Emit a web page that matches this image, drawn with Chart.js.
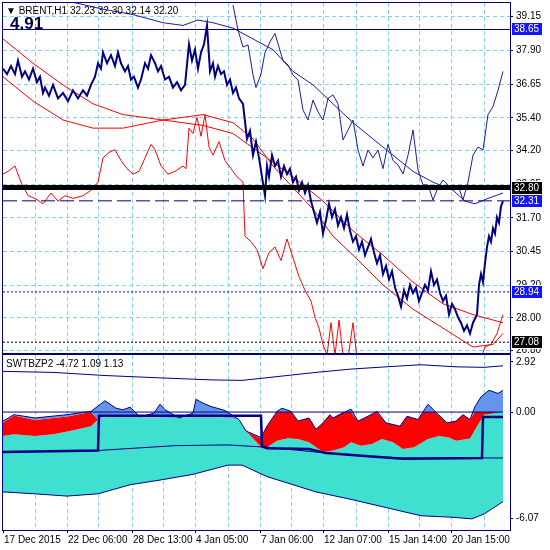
<!DOCTYPE html>
<html><head><meta charset="utf-8">
<script src="https://cdn.jsdelivr.net/npm/chart.js@4/dist/chart.umd.min.js"></script>
<style>
body{margin:0;background:#fff;width:550px;height:550px;overflow:hidden;position:relative;font-family:"Liberation Sans",sans-serif}
#top{position:absolute;left:0;top:0}
#bot{position:absolute;left:0;top:354px}
.t{position:absolute;color:#000;font-size:10px;white-space:pre}
</style></head><body>
<canvas id="top" width="550" height="354"></canvas>
<canvas id="bot" width="550" height="196"></canvas>
<div class="t" style="left:6px;top:5px">▼ BRENT,H1</div>
<div class="t" style="left:70px;top:5px">32.23 32.30 32.14 32.20</div>
<div class="t" style="left:10px;top:14px;font-size:17px;font-weight:bold;color:#000040">4.91</div>
<div class="t" style="left:6px;top:358px">SWTBZP2 -4.72 1.09 1.13</div>
<script>
// tiempo en barras H1 (0 = 17 Dec 2015)
const gridT = [0,32,64,95,129,160,192,225,257,288,320,353,385,416,448,481];
const gridLabels = {0:'17 Dec 2015',64:'22 Dec 06:00',129:'28 Dec 13:00',192:'4 Jan 05:00',257:'7 Jan 06:00',320:'12 Jan 07:00',385:'15 Jan 14:00',448:'20 Jan 15:00'};
const priceTicks = [39.15,37.90,36.65,35.40,34.20,32.95,31.70,30.45,29.20,28.00,26.80];
const indTicks = [2.92,0.00,-6.07];

// BRENT H1 (grueso)
const brent = [[0,37.2],[4,37.0],[8,37.3],[12,37.0],[15,37.5],[19,36.9],[22,37.1],[26,36.8],[30,37.2],[34,36.7],[37,36.9],[40,36.3],[42,36.5],[46,36.2],[50,36.6],[55,36.1],[60,36.3],[65,36.0],[70,36.4],[75,36.1],[80,36.4],[84,36.2],[88,36.6],[92,36.9],[95,37.4],[98,37.2],[100,37.8],[104,37.4],[108,37.7],[112,37.3],[115,37.8],[118,37.4],[122,37.1],[125,37.3],[128,36.8],[131,36.9],[135,36.5],[138,36.8],[142,37.4],[145,37.2],[148,37.7],[152,37.4],[155,37.1],[158,37.3],[162,36.8],[166,36.9],[170,36.5],[174,36.7],[178,36.4],[182,36.6],[186,38.1],[189,37.5],[192,37.9],[195,37.2],[198,37.8],[201,38.1],[204,38.8],[207,37.1],[210,37.4],[212,36.9],[215,37.3],[218,37.0],[221,37.1],[224,36.6],[227,36.8],[230,36.3],[233,36.5],[236,36.1],[240,35.9],[244,34.6],[247,34.9],[250,34.0],[253,34.5],[256,33.9],[259,33.2],[262,32.5],[264,33.6],[266,33.2],[269,34.0],[272,33.6],[275,33.8],[278,33.2],[281,33.6],[284,33.3],[287,33.5],[290,33.0],[293,33.2],[296,32.7],[299,33.0],[302,32.6],[305,32.9],[308,32.3],[311,31.9],[314,31.5],[317,31.9],[320,31.1],[323,31.6],[326,32.2],[329,31.7],[332,32.0],[335,31.4],[338,31.7],[341,31.3],[344,31.8],[347,31.2],[350,30.8],[353,31.0],[356,30.5],[359,30.8],[362,30.3],[365,30.6],[368,30.9],[371,30.4],[374,30.0],[377,30.3],[380,29.6],[383,29.9],[386,29.4],[389,29.7],[392,29.1],[395,28.8],[398,28.4],[401,29.0],[404,28.7],[407,29.2],[410,28.9],[413,29.1],[416,28.6],[419,28.9],[422,29.2],[425,29.0],[428,29.7],[431,29.2],[434,29.4],[437,28.9],[440,28.6],[443,28.8],[446,28.1],[449,28.5],[452,28.3],[455,28.0],[458,27.8],[461,27.5],[464,27.7],[467,27.4],[470,27.8],[474,28.1],[476,29.2],[478,29.6],[480,29.3],[482,30.0],[484,30.6],[486,31.0],[488,30.8],[490,31.3],[492,31.1],[494,31.7],[496,31.5],[498,32.1],[500,32.3]];
// segundo instrumento (fino azul)
const other = [[230,39.55],[235,38.63],[240,38.0],[245,38.08],[250,36.97],[253,36.5],[258,37.0],[262,37.8],[268,38.26],[272,38.5],[276,38.0],[280,37.5],[285,37.34],[290,36.97],[295,36.78],[300,35.67],[305,35.3],[310,36.04],[315,35.6],[320,35.3],[325,36.1],[330,36.23],[335,35.9],[340,34.56],[345,34.93],[350,35.3],[355,34.19],[360,33.6],[365,34.19],[370,33.9],[375,34.19],[380,33.5],[385,34.4],[390,33.8],[395,33.64],[400,33.3],[405,34.0],[410,34.93],[415,33.45],[420,32.9],[425,32.9],[430,32.34],[435,32.8],[440,33.08],[445,32.9],[450,32.7],[455,32.9],[460,32.34],[465,33.0],[470,34.0],[475,34.3],[480,34.19],[485,35.5],[490,35.8],[495,36.4],[500,37.1]];
const otherMA = [[65,39.7],[100,39.4],[130,39.2],[160,38.9],[180,38.8],[195,39.0],[210,38.9],[230,38.7],[250,38.3],[270,37.9],[290,37.1],[310,36.6],[330,35.9],[350,35.2],[370,34.6],[390,34.0],[410,33.4],[430,33.0],[450,32.7],[462,32.3],[472,32.2],[485,32.4],[500,32.6]];
const redMA1 = [[0,38.3],[30,37.4],[60,36.6],[90,35.9],[120,35.5],[160,35.3],[200,35.1],[230,34.8],[260,34.0],[290,33.2],[320,32.3],[350,31.2],[380,30.3],[410,29.3],[440,28.5],[470,28.1],[490,27.9],[500,27.8]];
const redMA2 = [[0,36.9],[30,36.0],[60,35.3],[90,35.0],[120,35.0],[160,35.3],[200,35.5],[230,35.2],[250,34.6],[270,33.6],[290,32.8],[310,32.0],[330,31.0],[350,30.3],[380,29.2],[410,28.3],[440,27.6],[470,26.9],[490,27.0],[500,27.4]];
const redOther = [[0,33.3],[5,33.4],[12,33.6],[18,33.0],[25,32.5],[32,32.4],[40,32.2],[48,32.6],[55,32.3],[62,32.5],[70,32.4],[80,32.5],[88,32.7],[95,33.0],[100,33.9],[106,34.1],[112,34.2],[118,33.8],[124,33.5],[130,33.3],[136,33.4],[142,33.9],[148,34.4],[152,34.2],[158,33.6],[165,33.3],[172,33.4],[180,33.6],[183,33.5],[186,35.0],[190,34.8],[194,35.4],[198,34.7],[202,35.5],[206,34.3],[210,34.0],[216,34.5],[222,33.8],[228,33.5],[234,33.2],[240,33.0],[242,31.0],[248,30.8],[254,30.5],[260,29.8],[266,30.4],[272,30.6],[278,30.1],[284,30.9],[290,30.2],[296,29.5],[302,29.0],[308,28.6],[312,28.0],[316,27.6],[320,27.0],[324,26.6],[328,27.8],[332,26.6],[336,27.9],[340,26.6],[345,26.5],[350,27.8],[354,26.5],[358,null],[478,26.5],[482,26.9],[488,27.0],[494,27.4],[500,28.1]];

// indicador SWTBZP2
const indBlue = [[0,-0.52],[11,-0.15],[32,-0.34],[64,-0.15],[88,0.04],[102,0.65],[113,0.22],[120,0.13],[127,0.28],[137,-0.28],[151,-0.06],[157,0.45],[162,0.13],[176,-0.34],[190,-0.06],[193,0.73],[200,0.51],[208,0.32],[222,0.09],[236,-0.43],[243,-1.09],[258,-1.46],[264,-0.81],[274,0.04],[279,0.22],[288,0.04],[295,-0.52],[306,-0.34],[313,-0.99],[320,-0.62],[327,-0.15],[330,-0.34],[348,0.17],[355,-0.52],[365,-0.24],[374,0.04],[383,-0.62],[397,-0.81],[404,-0.24],[415,-0.43],[425,0.45],[432,0.04],[444,-0.62],[453,-0.52],[460,-0.15],[467,-0.43],[472,0.32],[478,0.88],[486,1.25],[495,1.07],[500,1.25]];
const indRedTop = [[0,-0.6],[11,-0.2],[32,-0.45],[64,-0.25],[88,0],[95,-0.43],[102,-0.24],[137,-0.28],[172,-0.34],[208,-0.24],[236,-0.43],[243,-1.1],[258,-1.5],[264,-0.8],[274,0],[288,0],[295,-0.52],[306,-0.34],[313,-0.99],[320,-0.62],[327,-0.15],[330,-0.34],[340,0],[348,0],[355,-0.52],[365,-0.24],[374,0],[383,-0.62],[397,-0.81],[404,-0.24],[415,-0.43],[420,0],[432,0],[444,-0.62],[453,-0.52],[460,-0.15],[467,-0.43],[472,0],[500,0]];
const indRedBot = [[0,-1.37],[11,-1.27],[32,-1.37],[50,-1.27],[67,-1.09],[88,-0.81],[95,-0.43],[102,-0.24],[137,-0.28],[172,-0.34],[208,-0.24],[236,-0.43],[243,-1.09],[257,-1.93],[264,-2.02],[274,-1.65],[285,-1.5],[295,-1.55],[306,-1.74],[320,-2.3],[330,-2.21],[341,-2.02],[348,-1.74],[358,-1.93],[369,-1.84],[379,-1.55],[390,-1.74],[400,-2.12],[411,-2.02],[425,-1.55],[436,-1.37],[446,-1.46],[453,-1.65],[467,-1.52],[474,-0.81],[481,-0.15],[500,0]];
const indLow = [[0,-4.59],[32,-4.7],[64,-4.83],[95,-4.7],[127,-4.18],[158,-3.9],[190,-3.58],[225,-3.05],[239,-3.05],[264,-3.71],[313,-4.59],[348,-5.02],[383,-5.49],[418,-5.96],[450,-6.05],[469,-6.14],[481,-5.86],[500,-5.15]];
const indStep = [[0,-2.3],[95,-2.21],[96,-0.21],[258,-0.21],[259,-1.97],[264,-2.08],[306,-2.12],[323,-2.36],[362,-2.53],[400,-2.68],[479,-2.64],[480,-0.28],[500,-0.28]];
const indMid = [[0,-2.3],[95,-2.21],[172,-1.93],[225,-1.89],[264,-2.02],[313,-2.3],[362,-2.53],[400,-2.64],[500,-2.64]];
const indUpper = [[0,2.34],[50,2.28],[102,2.1],[155,1.97],[208,1.85],[239,1.82],[260,1.95],[313,2.28],[348,2.47],[383,2.6],[418,2.72],[453,2.6],[481,2.57],[500,2.66]];
const indZero = [[0,0],[500,0]];

// líneas horizontales y etiquetas de precio
const hLines = [
  {v:38.65,c:'#000080',w:1,d:[]},
  {v:32.80,c:'#000000',w:5,d:[]},
  {v:32.31,c:'#000080',w:1,d:[14,5]},
  {v:28.94,c:'#0000c0',w:1,d:[2,2]},
  {v:27.08,c:'#000000',w:1,d:[2,2]}
];
const tags = [
  {v:38.65,bg:'#1414ff'},{v:32.80,bg:'#000000'},{v:32.31,bg:'#1414ff'},{v:28.94,bg:'#1414ff'},{v:27.08,bg:'#000000'}
];

const pts = a => a.map(p => ({x:p[0], y:p[1]}));
const FONT = '10px "Liberation Sans"';
const GRID = '#87cefa';
const NAVY = '#000080';

function line(data, color, width, extra) {
  return Object.assign({data:pts(data), borderColor:color, borderWidth:width, pointRadius:0, tension:0, fill:false, order:0}, extra || {});
}

const frame = {
  id:'frame',
  beforeDatasetsDraw(chart) {
    const a = chart.chartArea, ctx = chart.ctx;
    ctx.save();
    ctx.strokeStyle = GRID; ctx.setLineDash([4,3]); ctx.lineWidth = 1;
    gridT.slice(1).forEach(t => {
      const x = Math.round(chart.scales.x.getPixelForValue(t)) + 0.5;
      ctx.beginPath(); ctx.moveTo(x, a.top); ctx.lineTo(x, a.bottom); ctx.stroke();
    });
    if (chart.canvas.id === 'top') {
      priceTicks.forEach(v => {
        const y = Math.round(chart.scales.y.getPixelForValue(v)) + 0.5;
        ctx.beginPath(); ctx.moveTo(a.left, y); ctx.lineTo(a.right, y); ctx.stroke();
      });
    }
    ctx.restore();
  },
  afterDraw(chart) {
    const a = chart.chartArea, ctx = chart.ctx, ys = chart.scales.y;
    const isTop = chart.canvas.id === 'top';
    ctx.save();
    ctx.font = FONT; ctx.textBaseline = 'middle'; ctx.fillStyle = '#000';
    (isTop ? priceTicks : indTicks).forEach(v => {
      const y = ys.getPixelForValue(v);
      ctx.fillText(v.toFixed(2), a.right + 6, y + 0.5);
      ctx.fillRect(a.right, Math.round(y), 3, 1);
    });
    if (isTop) {
      hLines.forEach(h => {
        const y = ys.getPixelForValue(h.v);
        ctx.strokeStyle = h.c; ctx.lineWidth = h.w; ctx.setLineDash(h.d);
        ctx.beginPath(); ctx.moveTo(a.left, y); ctx.lineTo(a.right, y); ctx.stroke();
      });
      ctx.setLineDash([]);
      tags.forEach(t => {
        const y = Math.round(ys.getPixelForValue(t.v));
        ctx.fillStyle = '#ffffff'; ctx.fillRect(a.right + 1, y - 7, 39, 14);
        ctx.fillStyle = t.bg; ctx.fillRect(a.right + 2, y - 6, 30, 12);
        ctx.fillStyle = '#ffffff'; ctx.fillText(t.v.toFixed(2), a.right + 4, y + 0.5);
      });
    } else {
      ctx.fillStyle = '#000'; ctx.textBaseline = 'top';
      gridT.forEach(t => {
        if (!gridLabels[t]) return;
        const x = chart.scales.x.getPixelForValue(t);
        ctx.fillRect(Math.round(x), a.bottom, 1, 3);
        ctx.fillText(gridLabels[t], x + 1, a.bottom + 5);
      });
    }
    ctx.strokeStyle = NAVY; ctx.lineWidth = 1; ctx.setLineDash([]);
    ctx.strokeRect(a.left - 0.5, a.top - 0.5, a.right - a.left + 1, a.bottom - a.top + 1);
    ctx.restore();
  }
};

const xScale = {type:'linear', min:0, max:507, display:false};
function yScale(min, max) {
  return {
    type:'linear', position:'right', min:min, max:max,
    grid:{display:false}, border:{display:false},
    ticks:{display:false},
    afterFit: s => { s.width = 40; }
  };
}

new Chart(document.getElementById('top'), {
  type:'line',
  data:{datasets:[
    line(brent, NAVY, 2),
    line(other, '#1c1c9c', 1),
    line(otherMA, '#1c1c9c', 1),
    line(redMA1, '#ff0000', 1),
    line(redMA2, '#ff0000', 1),
    line(redOther, '#ff0000', 1, {spanGaps:false})
  ]},
  options:{
    responsive:false, animation:false,
    layout:{padding:{left:3, top:3, right:0, bottom:1}},
    plugins:{legend:{display:false}, tooltip:{enabled:false}},
    scales:{x:xScale, y:yScale(26.68, 39.63)}
  },
  plugins:[frame]
});

new Chart(document.getElementById('bot'), {
  type:'line',
  data:{datasets:[
    line(indBlue, NAVY, 1, {fill:{target:1}, backgroundColor:'#6495ed', order:3}),
    line(indRedTop, 'rgba(0,0,0,0)', 0, {fill:{target:2}, backgroundColor:'#ff0000', order:3}),
    line(indRedBot, 'rgba(0,0,0,0)', 0, {fill:{target:3}, backgroundColor:'#40e0d0', order:3}),
    line(indLow, NAVY, 1, {order:2}),
    line(indZero, NAVY, 1),
    line(indMid, NAVY, 1),
    line(indUpper, NAVY, 1),
    line(indStep, NAVY, 2.5)
  ]},
  options:{
    responsive:false, animation:false,
    layout:{padding:{left:3, top:1, right:0, bottom:20}},
    plugins:{legend:{display:false}, tooltip:{enabled:false}, filler:{propagate:false}},
    scales:{x:xScale, y:yScale(-6.78, 3.28)}
  },
  plugins:[frame]
});
</script>
</body></html>
